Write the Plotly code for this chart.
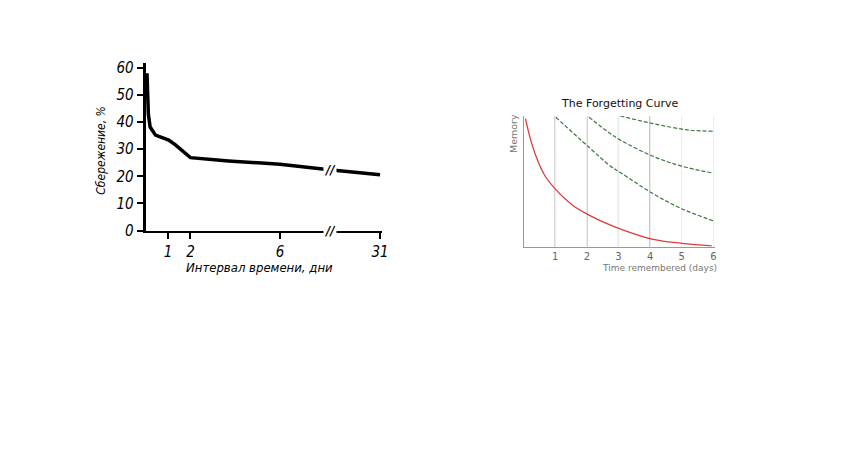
import numpy as np
import plotly.graph_objects as go

# ---------------- Left chart data (Ebbinghaus savings) ----------------
left_pos = [0.06, 0.08, 0.12, 0.2, 0.44, 1.03, 1.33, 2.0, 3.7, 6.0, 8.2, 10.47]
left_savings = [58, 50, 43, 38.2, 35.2, 33.4, 31.6, 26.9, 25.7, 24.5, 22.4, 20.6]
left_tickvals = [1, 2, 6, 10.47]
left_ticktext = ["1", "2", "6", "31"]
left_yticks = [0, 10, 20, 30, 40, 50, 60]
break_pos = 8.25

# ---------------- Right chart data (forgetting curves) ----------------
red_x = [0.06, 0.25, 0.46, 0.7, 1.0, 1.55, 2.07, 2.6, 3.12, 4.1, 5.0, 5.95]
red_y = [1.01, 0.82, 0.67, 0.55, 0.456, 0.328, 0.25, 0.187, 0.135, 0.058, 0.028, 0.008]
g1_x = [1.02, 2.04, 2.75, 3.06, 4.1, 5.0, 6.0]
g1_y = [1.02, 0.79, 0.635, 0.585, 0.418, 0.30, 0.205]
g2_x = [2.07, 2.75, 3.06, 4.1, 5.0, 6.0]
g2_y = [1.02, 0.89, 0.84, 0.712, 0.635, 0.58]
g3_x = [3.06, 4.1, 5.2, 6.0]
g3_y = [1.03, 0.97, 0.92, 0.91]
review_days = [1, 2, 3, 4]
right_ticks = [1, 2, 3, 4, 5, 6]

W, H = 848, 454
def px(x):
    return x / W
def py(y):
    return 1 - y / H

narrow = "DejaVu Sans Condensed, Liberation Sans Narrow, Arial Narrow, sans-serif"
sans = "DejaVu Sans, Verdana, sans-serif"

fig = go.Figure()

fig.add_trace(go.Scatter(x=left_pos, y=left_savings, mode="lines",
                         line=dict(color="black", width=3.5), xaxis="x", yaxis="y",
                         hoverinfo="skip"))

fig.add_trace(go.Scatter(x=red_x, y=red_y, mode="lines", line_shape="spline",
                         line=dict(color="#e03a3a", width=1.3), xaxis="x2", yaxis="y2"))
for gx, gy in [(g1_x, g1_y), (g2_x, g2_y), (g3_x, g3_y)]:
    fig.add_trace(go.Scatter(x=gx, y=gy, mode="lines", line_shape="spline",
                             line=dict(color="#3b7a3b", width=1.2, dash="4px,2px"),
                             xaxis="x2", yaxis="y2"))

shapes = []
for d in review_days:
    shapes.append(dict(type="line", xref="x2", yref="y2 domain", x0=d, x1=d, y0=0, y1=1,
                       line=dict(color="#9a9a9a", width=1.2), layer="below"))

curve_break_y = float(np.interp(break_pos, left_pos, left_savings))

def ann(text, x, y, font, **kw):
    d = dict(text=text, x=x, y=y, xref="paper", yref="paper", showarrow=False,
             xanchor="center", yanchor="middle", font=font)
    d.update(kw)
    return d

annotations = [
    ann("Сбережение, %", px(101.7), py(150),
        dict(family=narrow, size=12, color="black", style="italic"), textangle=-90),
    ann("Интервал времени, дни", px(261), py(271.7),
        dict(family=narrow, size=13, color="black", style="italic")),
    dict(text="<b>//</b>", x=break_pos, y=0, xref="x", yref="y", showarrow=False,
         xanchor="center", yanchor="middle", bgcolor="white", borderpad=0,
         font=dict(family=narrow, size=13, color="black", style="italic")),
    dict(text="<b>//</b>", x=break_pos, y=curve_break_y, xref="x", yref="y", showarrow=False,
         xanchor="center", yanchor="middle", bgcolor="white", borderpad=0,
         font=dict(family=narrow, size=13, color="black", style="italic")),
    ann("The Forgetting Curve", px(624.5), py(102), dict(family=sans, size=11, color="#111")),
    ann("Time remembered (days)", px(664), py(272), dict(family=sans, size=9, color="#777")),
    ann("Memory", px(516.5), py(133), dict(family=sans, size=9.5, color="#777"), textangle=-90),
]

fig.update_layout(
    autosize=True, margin=dict(l=0, r=0, t=0, b=0, pad=0),
    paper_bgcolor="white", plot_bgcolor="white", showlegend=False,
    xaxis=dict(domain=[px(146.7), px(385)], range=[0, 10.57], anchor="y",
               showline=True, linecolor="black", linewidth=2, ticks="outside",
               ticklen=6, tickwidth=2, tickcolor="black", tickvals=left_tickvals,
               ticktext=left_ticktext, showgrid=False, zeroline=False,
               tickfont=dict(family=narrow, size=15, color="black", style="italic")),
    yaxis=dict(domain=[py(233.3), py(61)], range=[0, 61.7], anchor="x",
               showline=True, linecolor="black", linewidth=3, ticks="outside",
               ticklen=6, tickwidth=2, tickcolor="black", tickvals=left_yticks,
               showgrid=False, zeroline=False,
               tickfont=dict(family=narrow, size=15, color="black", style="italic")),
    xaxis2=dict(domain=[px(527.3), px(720)], range=[0, 6.05], anchor="y2",
                showline=True, linecolor="#999", linewidth=1, ticks="",
                tickvals=right_ticks, showgrid=True, gridcolor="#ececec", zeroline=False,
                tickfont=dict(family=sans, size=10, color="#666")),
    yaxis2=dict(domain=[py(250), py(115.3)], range=[0, 1.03], anchor="x2",
                showline=True, linecolor="#999", linewidth=1, showticklabels=False,
                ticks="", showgrid=False, zeroline=False),
    shapes=shapes, annotations=annotations,
)

fig.write_html(
    "out.html",
    default_width="100vw",
    default_height="100vh",
    config={"displayModeBar": False, "responsive": True},
    post_script=(
        "document.documentElement.style.margin='0';"
        "document.documentElement.style.padding='0';"
        "document.documentElement.style.overflow='hidden';"
        "document.body.style.margin='0';document.body.style.padding='0';"
        "document.body.style.overflow='hidden';"
        "var gd=document.getElementById('{plot_id}');"
        "if(window.Plotly&&gd){Plotly.Plots.resize(gd);}"
    ),
)
